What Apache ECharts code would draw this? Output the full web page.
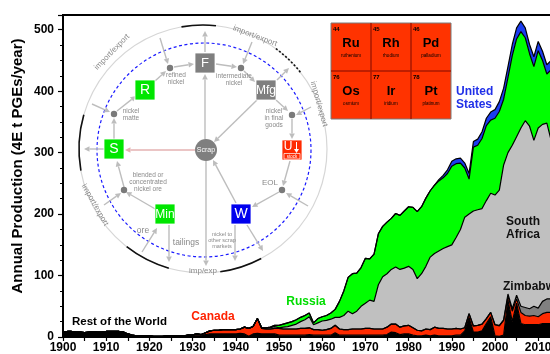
<!DOCTYPE html>
<html>
<head>
<meta charset="utf-8">
<script src="https://cdn.jsdelivr.net/npm/echarts@6/dist/echarts.min.js"></script>
<style>
html, body { margin: 0; padding: 0; background: #fff; }
#chart { width: 550px; height: 354px; }
</style>
</head>
<body>
<div id="chart"></div>
<script>
var startYear = 1900
var endYear = 2020
var xTicks = [1900, 1910, 1920, 1930, 1940, 1950, 1960, 1970, 1980, 1990, 2000, 2010, 2020]
var yTicks = [0, 100, 200, 300, 400, 500]

// 4E t PGEs per year, one value per year from 1900 to 2014
var restOfWorld = [
	8, 9, 9, 8, 8, 7, 8, 9, 8, 8,
	9, 9, 9, 9, 8, 5, 3, 2, 2, 2,
	2, 1, 1, 1, 2, 2, 2, 2, 2, 3,
	3, 3, 3, 4, 5, 5, 5, 5, 5, 5,
	5, 6, 5, 1, 5, 6, 5, 5, 5, 5,
	3, 3, 3, 3, 3, 3, 3, 4, 3, 3,
	3, 3, 3, 7, 3, 3, 3, 3, 3, 3,
	3, 3, 3, 3, 3, 4, 8, 7, 4, 5,
	5, 3, 2, 2, 3, 2, 3, 2, 2, 2,
	2, 3, 3, 10, 32, 8, 8, 10, 22, 33,
	2, 1, 3, 60, 25, 55, 22, 20, 20, 20,
	20, 22, 22, 22, 20
]
var canada = [
	0, 0, 0, 0, 0, 0, 0, 0, 0, 0,
	0, 0, 0, 0, 0, 0, 0, 0, 0, 0,
	0, 0, 0, 0, 0, 0, 0, 0, 0, 0,
	0.5, 2, 1, 3, 5, 6, 6, 7, 7, 7,
	7, 7, 11, 13, 12, 24, 9, 8, 8, 9,
	11, 10, 10, 10, 10, 11, 11, 11, 9, 9,
	8, 9, 11, 12, 10, 9, 9, 10, 10, 10,
	11, 11, 10, 10, 10, 12, 13, 14, 12, 13,
	14, 12, 9, 8, 10, 10, 13, 12, 12, 11,
	11, 11, 10, 5, 6, 10, 11, 11, 8, 7,
	18, 17, 24, 6, 17, 7, 18, 15, 14, 15,
	13, 16, 18, 18, 18
]
var zimbabwe = [
	0, 0, 0, 0, 0, 0, 0, 0, 0, 0,
	0, 0, 0, 0, 0, 0, 0, 0, 0, 0,
	0, 0, 0, 0, 0, 0, 0, 0, 0, 0,
	0, 0, 0, 0, 0, 0, 0, 0, 0, 0,
	0, 0, 0, 0, 0, 0, 0, 0, 0, 0,
	0, 0, 0, 0, 0, 0, 0, 0, 0, 0,
	0, 0, 0, 0, 0, 0, 0, 0, 0, 0,
	0, 0, 0, 0, 0, 0, 0, 0, 0, 0,
	0, 0, 0, 0, 0, 0, 0, 0, 0, 0,
	0, 0, 0, 0, 0, 0, 0, 0, 0, 0,
	0, 1, 1, 4, 4, 6, 10, 13, 12, 15,
	14, 20, 22, 22, 20
]
var southAfrica = [
	0, 0, 0, 0, 0, 0, 0, 0, 0, 0,
	0, 0, 0, 0, 0, 0, 0, 0, 0, 0,
	0, 0, 0, 0, 0, 0, 0, 0, 0, 0,
	0, 0, 0, 0, 0, 0, 0, 0, 0, 0,
	0, 0, 0, 0, 0, 0, 1, 2, 2, 3,
	1, 3, 4, 6, 8, 11, 14, 18, 8, 11,
	15, 15, 15, 13, 19, 23, 30, 25, 29, 37,
	41, 46, 45, 72, 85, 87, 89, 93, 94, 94,
	96, 95, 84, 93, 102, 118, 120, 126, 130, 134,
	137, 148, 162, 180, 162, 187, 188, 188, 192, 194,
	211, 220, 252, 230, 266, 258, 290, 304, 297, 270,
	293, 288, 286, 258, 242
]
var russia = [
	0, 0, 0, 0, 0, 0, 0, 0, 0, 0,
	0, 0, 0, 0, 0, 0, 0, 0, 0, 0,
	0, 0, 0, 0, 0, 0, 0, 0, 0, 0,
	0, 0, 0, 0, 0, 0, 0, 0, 0, 0,
	0, 0, 0, 0, 0, 0, 0, 0, 1, 2,
	4, 5, 6, 6, 7, 7, 7, 6, 3, 7,
	7, 8, 10, 13, 26, 40, 55, 65, 62, 63,
	73, 67, 77, 83, 82, 84, 83, 87, 88, 93,
	97, 101, 109, 109, 111, 108, 111, 114, 115, 119,
	128, 120, 108, 80, 57, 104, 105, 114, 122, 119,
	125, 128, 107, 122, 146, 159, 157, 135, 118, 120,
	126, 104, 80, 115, 115
]
var unitedStates = [
	0, 0, 0, 0, 0, 0, 0, 0, 0, 0,
	0, 0, 0, 0, 0, 0, 0, 0, 0, 0,
	0, 0, 0, 0, 0, 0, 0, 0, 0, 0,
	0, 0, 0, 0, 0, 0, 0, 0, 0, 0,
	0, 0, 0, 0, 0, 0, 0, 0, 0, 0,
	0, 0, 0, 0, 0, 0, 0, 0, 0, 0,
	0, 0, 0, 0, 0, 0, 0, 0, 0, 0,
	0, 0, 0, 0, 0, 0, 0, 0, 0, 0,
	0, 0, 0, 0, 0, 0, 0, 2, 4, 6,
	8, 8, 8, 8, 9, 9, 10, 11, 12, 13,
	14, 16, 18, 18, 18, 18, 17, 16, 15, 16,
	15, 15, 15, 15, 15
]

var elements = [
	{ num: '44', sym: 'Ru', name: 'ruthenium' },
	{ num: '45', sym: 'Rh', name: 'rhodium' },
	{ num: '46', sym: 'Pd', name: 'palladium' },
	{ num: '76', sym: 'Os', name: 'osmium' },
	{ num: '77', sym: 'Ir', name: 'iridium' },
	{ num: '78', sym: 'Pt', name: 'platinum' },
]

var years = []
for (var y = startYear; y <= endYear; y++) years.push(String(y))

var FONT = '"Liberation Sans", Arial, sans-serif'
var GREY = '#bdbdbd'
var LABEL = '#8a8a8a'

function areaSeries(name, values, color) {
	return {
		name: name,
		type: 'line',
		stack: 'pge',
		symbol: 'none',
		silent: true,
		data: values,
		lineStyle: { color: '#000', width: 1.2 },
		areaStyle: { color: color, opacity: 1 },
		itemStyle: { color: color },
	}
}

function txt(x, y, s, size, color, opts) {
	opts = opts || {}
	return {
		type: 'text',
		x: x,
		y: y,
		rotation: opts.rot || 0,
		z: 120,
		style: {
			text: s,
			font: (opts.bold ? 'bold ' : '') + size + 'px ' + FONT,
			fill: color,
			align: opts.align || 'center',
			textAlign: opts.align || 'center',
			verticalAlign: 'middle',
			textVerticalAlign: 'middle',
			lineHeight: opts.lh || Math.round(size * 1.1),
		},
	}
}

function arrow(x1, y1, x2, y2, color) {
	color = color || GREY
	var a = Math.atan2(y2 - y1, x2 - x1)
	var h = 5.5, w = 2.8
	var bx = x2 - h * Math.cos(a), by = y2 - h * Math.sin(a)
	return [
		{ type: 'line', z: 110, shape: { x1: x1, y1: y1, x2: bx, y2: by }, style: { stroke: color, lineWidth: 1.4 } },
		{
			type: 'polygon', z: 110,
			shape: { points: [[x2, y2], [bx - w * Math.sin(a), by + w * Math.cos(a)], [bx + w * Math.sin(a), by - w * Math.cos(a)]] },
			style: { fill: color },
		},
	]
}

function box(cx, cy, color, label, size) {
	return [
		{ type: 'rect', z: 115, shape: { x: cx - 10, y: cy - 10, width: 20, height: 20 }, style: { fill: color, stroke: '#fff', lineWidth: 0.8 } },
		txt(cx, cy + 0.5, label, size, '#fff'),
	]
}

function dot(cx, cy) {
	return { type: 'circle', z: 115, shape: { cx: cx, cy: cy, r: 3.2 }, style: { fill: '#7a7a7a' } }
}

function arc(a0, a1, dash) {
	return {
		type: 'arc', z: 105,
		shape: { cx: 203, cy: 149, r: 124, startAngle: a0 * Math.PI / 180, endAngle: a1 * Math.PI / 180 },
		style: { stroke: '#111', fill: null, lineWidth: 1.6, lineDash: dash || null },
	}
}

var g = []
// circles of the nickel cycle inset
g.push({ type: 'circle', z: 100, shape: { cx: 203, cy: 149, r: 124 }, style: { fill: null, stroke: '#d6d6d6', lineWidth: 1.2 } })
g.push({ type: 'circle', z: 101, shape: { cx: 204, cy: 150, r: 107 }, style: { fill: null, stroke: '#1a1aff', lineWidth: 1.2, lineDash: [3, 2.5] } })
g.push(arc(-100, -84))
g.push(arc(-54, -38, [2, 2]))
g.push(arc(170, 196))
g.push(arc(106, 128))
g.push(arc(62, 82))

// arrows
var arrows = [
	[157, 210, 126, 192], [104, 205, 121, 193], [124, 187, 117, 161],
	[114, 139, 114, 118], [92, 104, 110, 112], [117, 111, 136, 96],
	[155, 81, 166, 71], [160, 38, 168, 64], [174, 67, 194, 64],
	[205, 52, 205, 31], [216, 64, 237, 67], [252, 42, 243, 64],
	[244, 71, 255, 82], [277, 80, 289, 68], [276, 100, 288, 111],
	[311, 107, 296, 115], [292, 119, 292, 139], [257, 100, 214, 142],
	[205, 139, 205, 74], [206, 161, 206, 266], [236, 203, 213, 160],
	[235, 225, 235, 261], [247, 225, 263, 251], [279, 192, 252, 207],
	[290, 161, 283, 186], [308, 206, 286, 193], [169, 225, 169, 262],
	[142, 252, 157, 228], [113, 149, 84, 149],
]
arrows.forEach(function (a) {
	g = g.concat(arrow(a[0], a[1], a[2], a[3]))
})
g = g.concat(arrow(195, 150, 125, 150, '#e4b2b2'))

// nodes
g = g.concat(box(205, 63, '#7f7f7f', 'F', 13))
g = g.concat(box(266, 90, '#7f7f7f', 'Mfg', 12))
g = g.concat(box(145, 90, '#00e600', 'R', 14))
g = g.concat(box(114, 149, '#00e600', 'S', 14))
g = g.concat(box(165, 214, '#00e600', 'Min', 12))
g = g.concat(box(241, 214, '#0000ee', 'W', 14))
g.push({ type: 'rect', z: 115, shape: { x: 282, y: 140, width: 20, height: 20 }, style: { fill: '#ff2a00', stroke: '#fff', lineWidth: 0.8 } })
g.push(txt(288, 147, 'U', 12, '#fff'))
g.push({ type: 'line', z: 116, shape: { x1: 296.5, y1: 142, x2: 296.5, y2: 150 }, style: { stroke: '#fff', lineWidth: 1 } })
g.push({ type: 'polygon', z: 116, shape: { points: [[294, 149], [299, 149], [296.5, 153]] }, style: { fill: '#fff' } })
g.push({ type: 'rect', z: 116, shape: { x: 284, y: 153.5, width: 16, height: 5.5 }, style: { fill: '#ff2a00', stroke: '#fff', lineWidth: 0.7 } })
g.push(txt(292, 156.5, 'stock', 4.5, '#fff'))
g.push({ type: 'circle', z: 115, shape: { cx: 206, cy: 150, r: 11 }, style: { fill: '#7f7f7f' } })
g.push(txt(206, 150.5, 'Scrap', 7, '#fff'))
;[[170, 68], [241, 68], [114, 114], [292, 115], [124, 190], [282, 190]].forEach(function (p) {
	g.push(dot(p[0], p[1]))
})

// diagram labels
g.push(txt(176, 79, 'refined\nnickel', 6.5, LABEL, { lh: 7 }))
g.push(txt(234, 80, 'intermediate\nnickel', 6.5, LABEL, { lh: 7 }))
g.push(txt(131, 115, 'nickel\nmatte', 6.5, LABEL, { lh: 7 }))
g.push(txt(274, 118, 'nickel\nin final\ngoods', 6.5, LABEL, { lh: 7 }))
g.push(txt(148, 182, 'blended or\nconcentrated\nnickel ore', 6.5, LABEL, { lh: 7 }))
g.push(txt(222, 240, 'nickel to\nother scrap\nmarkets', 5.5, LABEL, { lh: 6 }))
g.push(txt(143, 231, 'ore', 8.5, LABEL))
g.push(txt(186, 243, 'tailings', 8.5, LABEL))
g.push(txt(270, 183, 'EOL', 8, LABEL))
g.push(txt(203, 271, 'imp/exp', 8, LABEL))
g.push(txt(112, 52, 'import/export', 8, LABEL, { rot: 0.8 }))
g.push(txt(255, 36, 'import/export', 8, LABEL, { rot: -0.36 }))
g.push(txt(319, 104, 'import/export', 8, LABEL, { rot: -1.3 }))
g.push(txt(95, 205, 'import/export', 8, LABEL, { rot: -1.05 }))

// periodic table inset
g.push({ type: 'rect', z: 110, shape: { x: 331, y: 23, width: 120, height: 96 }, style: { fill: '#ff3300', stroke: '#7a7a7a', lineWidth: 1 } })
g.push({ type: 'line', z: 111, shape: { x1: 331, y1: 71, x2: 451, y2: 71 }, style: { stroke: '#a81800', lineWidth: 1.5 } })
g.push({ type: 'line', z: 111, shape: { x1: 371, y1: 23, x2: 371, y2: 119 }, style: { stroke: '#a81800', lineWidth: 1.5 } })
g.push({ type: 'line', z: 111, shape: { x1: 411, y1: 23, x2: 411, y2: 119 }, style: { stroke: '#a81800', lineWidth: 1.5 } })
elements.forEach(function (el, i) {
	var x0 = 331 + (i % 3) * 40
	var y0 = 23 + Math.floor(i / 3) * 48
	g.push(txt(x0 + 2, y0 + 6, el.num, 6, '#000', { bold: true, align: 'left' }))
	g.push(txt(x0 + 20, y0 + 20, el.sym, 13, '#000', { bold: true }))
	g.push(txt(x0 + 20, y0 + 33, el.name, 4.5, '#000'))
})

// country labels
g.push(txt(456, 92, 'United', 12, '#2030e8', { bold: true, align: 'left' }))
g.push(txt(456, 105, 'States', 12, '#2030e8', { bold: true, align: 'left' }))
g.push(txt(523, 222, 'South', 12, '#111', { bold: true }))
g.push(txt(523, 235, 'Africa', 12, '#111', { bold: true }))
g.push(txt(503, 287, 'Zimbabwe', 12, '#111', { bold: true, align: 'left' }))
g.push(txt(306, 302, 'Russia', 12, '#00dd00', { bold: true }))
g.push(txt(213, 317, 'Canada', 12, '#ff2200', { bold: true }))
g.push(txt(72, 322, 'Rest of the World', 11.5, '#000', { bold: true, align: 'left' }))
g.push(txt(18, 166, 'Annual Production (4E t PGEs/year)', 15, '#000', { bold: true, rot: Math.PI / 2 }))

var chart = echarts.init(document.getElementById('chart'))
var option = {
	animation: false,
	backgroundColor: '#fff',
	grid: {
		left: 63,
		top: 15,
		width: 518.4,
		height: 322,
		outerBoundsMode: 'none',
		containLabel: false,
		show: true,
		borderColor: '#000',
		borderWidth: 2,
	},
	xAxis: {
		type: 'category',
		data: years,
		boundaryGap: false,
		axisLine: { lineStyle: { color: '#000', width: 2 } },
		axisTick: {
			length: 4,
			interval: function (i) {
				return i % 5 === 0
			},
			lineStyle: { color: '#000', width: 1.2 },
		},
		splitLine: { show: false },
		axisLabel: {
			margin: 5,
			color: '#000',
			fontWeight: 'bold',
			fontSize: 12,
			fontFamily: FONT,
			interval: function (i, v) {
				return xTicks.indexOf(Number(v)) >= 0
			},
		},
	},
	yAxis: {
		type: 'value',
		min: 0,
		max: 524,
		interval: 100,
		axisLine: { show: true, lineStyle: { color: '#000', width: 2 } },
		axisTick: { show: true, length: 5, lineStyle: { color: '#000', width: 1.2 } },
		minorTick: { show: true, splitNumber: 4, length: 3, lineStyle: { color: '#000', width: 1 } },
		splitLine: { show: false },
		axisLabel: {
			margin: 9,
			color: '#000',
			fontWeight: 'bold',
			fontSize: 12,
			fontFamily: FONT,
			showMaxLabel: false,
			formatter: function (v) {
				return yTicks.indexOf(v) >= 0 ? String(v) : ''
			},
		},
	},
	series: [
		areaSeries('Rest of the World', restOfWorld, '#000000'),
		areaSeries('Canada', canada, '#ff2a00'),
		areaSeries('Zimbabwe', zimbabwe, '#808080'),
		areaSeries('South Africa', southAfrica, '#c0c0c0'),
		areaSeries('Russia', russia, '#00ff00'),
		areaSeries('United States', unitedStates, '#1a3cf0'),
	],
	graphic: { elements: g },
}
option && chart.setOption(option)
</script>
</body>
</html>
